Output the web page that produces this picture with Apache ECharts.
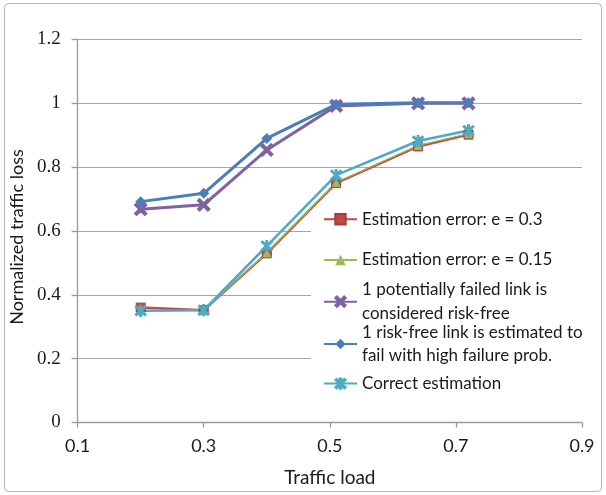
<!DOCTYPE html>
<html>
<head>
<meta charset="utf-8">
<script src="https://cdn.jsdelivr.net/npm/echarts@6/dist/echarts.min.js"></script>
<style>
  html, body { margin: 0; padding: 0; background: #fff; }
  #chart { width: 606px; height: 495px; }
</style>
</head>
<body>
<div id="chart"></div>
<script>
// Traffic load values at which each scheme was evaluated
const trafficLoad = [0.2, 0.3, 0.4, 0.51, 0.64, 0.72];

// Normalized traffic loss per scheme
const errHigh      = [0.36, 0.352, 0.53, 0.75, 0.865, 0.902];   // Estimation error: e = 0.3
const errLow       = [0.35, 0.352, 0.532, 0.752, 0.868, 0.905]; // Estimation error: e = 0.15
const failedAsSafe = [0.668, 0.682, 0.854, 0.992, 1.0, 1.0];    // 1 potentially failed link is considered risk-free
const safeAsFailed = [0.692, 0.718, 0.89, 0.997, 1.002, 1.002]; // 1 risk-free link is estimated to fail with high failure prob.
const correctEst   = [0.35, 0.352, 0.553, 0.775, 0.882, 0.915]; // Correct estimation

const seriesNames = [
  'Estimation error: e = 0.3',
  'Estimation error: e = 0.15',
  '1 potentially failed link is considered risk-free',
  '1 risk-free link is estimated to fail with high failure prob.',
  'Correct estimation'
];
const legendLines = {
  [seriesNames[2]]: ['1 potentially failed link is', 'considered risk-free'],
  [seriesNames[3]]: ['1 risk-free link is estimated to', 'fail with high failure prob.']
};

const xTicks = [0.1, 0.3, 0.5, 0.7, 0.9];
const yTicks = [0, 0.2, 0.4, 0.6, 0.8, 1, 1.2];

const pairs = ys => trafficLoad.map((x, i) => [x, ys[i]]);

// marker shapes
const crossPath = 'path://M0,1.5L1.5,0L5,3.5L8.5,0L10,1.5L6.5,5L10,8.5L8.5,10L5,6.5L1.5,10L0,8.5L3.5,5Z';
const starPath = 'path://M0,1.2L1.2,0L5,3.8L8.8,0L10,1.2L6.2,5L10,8.8L8.8,10L5,6.2L1.2,10L0,8.8L3.8,5Z M4.2,-0.5H5.8V10.5H4.2Z';

const uiFont = 'Lato';
const textColor = '#1a1a1a';

function lineSeries(name, data, color, width, symbol, size, border, borderW) {
  return {
    name: name,
    type: 'line',
    data: pairs(data),
    symbol: symbol,
    symbolSize: size,
    showSymbol: true,
    lineStyle: { color: color, width: width },
    itemStyle: { color: color, borderColor: border || color, borderWidth: borderW || 0 },
    emphasis: { disabled: true },
    animation: false
  };
}

// one legend block per entry so that each line sits where it belongs
const lineH = 23.5;
const legendTops = [219.3, 260, 301.7, 344, 383.6];
const legends = seriesNames.map((n, i) => {
  const wrapped = !!legendLines[n];
  return {
    data: [n],
    left: 323,
    top: wrapped ? legendTops[i] - 1.5 * lineH : legendTops[i] - lineH / 2,
    padding: 0,
    itemWidth: 33,
    itemHeight: 13,
    itemGap: 0,
    selectedMode: false,
    z: 6,
    formatter: nm => legendLines[nm] ? legendLines[nm].join('\n') : nm,
    textStyle: {
      fontFamily: uiFont,
      fontSize: 17,
      color: textColor,
      lineHeight: lineH,
      padding: wrapped ? [lineH, 0, 0, 0] : 0
    }
  };
});

const chart = echarts.init(document.getElementById('chart'), null, { renderer: 'canvas' });
chart.setOption({
  backgroundColor: '#ffffff',
  animation: false,
  grid: { left: 72, right: 24, top: 39.5, bottom: 72.5, containLabel: false },
  xAxis: {
    type: 'value',
    min: xTicks[0],
    max: xTicks[xTicks.length - 1],
    interval: 0.2,
    name: 'Traffic load',
    nameLocation: 'middle',
    nameGap: 46,
    nameTextStyle: { fontFamily: uiFont, fontSize: 19, color: textColor },
    axisLine: { lineStyle: { color: '#9a9a9a', width: 1.3 } },
    axisTick: { show: true, inside: false, length: 5, lineStyle: { color: '#9a9a9a', width: 1.3 } },
    axisLabel: {
      margin: 15,
      fontFamily: uiFont, fontSize: 18, color: textColor,
      formatter: v => v.toFixed(1)
    },
    splitLine: { show: false }
  },
  yAxis: {
    type: 'value',
    min: yTicks[0],
    max: yTicks[yTicks.length - 1],
    interval: 0.2,
    name: 'Normalized traffic loss',
    nameLocation: 'middle',
    nameGap: 50,
    nameTextStyle: { fontFamily: uiFont, fontSize: 18, color: textColor, padding: [0, 12, 0, 0] },
    axisLine: { show: true, lineStyle: { color: '#9a9a9a', width: 1.3 } },
    axisTick: { show: true, inside: false, length: 6, lineStyle: { color: '#9a9a9a', width: 1.3 } },
    axisLabel: {
      margin: 17,
      fontFamily: 'Liberation Serif', fontSize: 19, color: textColor,
      formatter: v => String(Math.round(v * 10) / 10)
    },
    splitLine: { show: true, lineStyle: { color: '#a6a6a6', width: 1.2 } }
  },
  legend: legends,
  graphic: [
    {
      type: 'rect',
      z: 3,
      shape: { x: 311, y: 198, width: 276, height: 206 },
      style: { fill: '#ffffff' },
      silent: true
    },
    {
      type: 'rect',
      z: 10,
      shape: { x: 4.5, y: 3.5, width: 597, height: 488, r: 4 },
      style: { fill: null, stroke: '#b5b5b5', lineWidth: 1 },
      silent: true
    }
  ],
  series: [
    lineSeries(seriesNames[0], errHigh, '#be4b48', 2.5, 'rect', 9, '#a33e3b', 1),
    lineSeries(seriesNames[1], errLow, '#9bbb59', 1.2, 'triangle', 9),
    lineSeries(seriesNames[2], failedAsSafe, '#7f63a1', 3, crossPath, 12, '#7f63a1', 1.5),
    lineSeries(seriesNames[3], safeAsFailed, '#4a7ebb', 3, 'diamond', 11),
    lineSeries(seriesNames[4], correctEst, '#4bacc6', 2.5, starPath, 11, '#4bacc6', 1.2)
  ]
});
</script>
</body>
</html>
